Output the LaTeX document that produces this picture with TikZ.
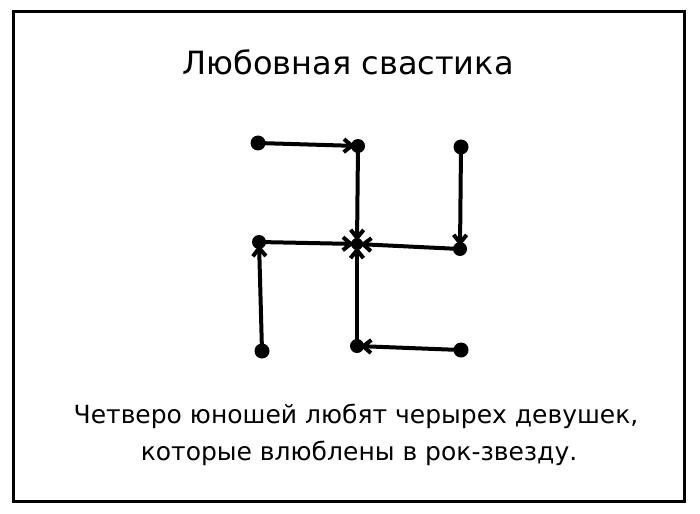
\documentclass[tikz,border=0pt]{standalone}
\usepackage{fontspec}
\setmainfont{DejaVu Sans}
\usetikzlibrary{arrows.meta}
\tikzset{>={Straight Barb[length=8pt,width=13pt]}}
\tikzset{love/.style={->, line width=4pt, shorten >=3pt, shorten <=2pt}}

\begin{document}
\begin{tikzpicture}[x=1pt, y=-1pt]
\useasboundingbox (0,0) rectangle (700,513);
\draw[line width=3pt] (13,12) rectangle (684,501);
\node (title) at (348,75) [anchor = base] {\fontsize{32}{38}\selectfont Любовная свастика};
% the star in the middle
\coordinate (S) at (357,244);
% girls
\coordinate (G1) at (358,146);
\coordinate (G2) at (460,249);
\coordinate (G3) at (259,242);
\coordinate (G4) at (357,346);
% boys
\coordinate (B1) at (258,143);
\coordinate (B2) at (461,147);
\coordinate (B3) at (262,351);
\coordinate (B4) at (461,350);
\foreach \i in {1,...,4}
\fill (B\i) circle (7.5pt);
\foreach \i in {1,...,4}
\fill (G\i) circle (7pt);
\fill (S) circle (6pt);
\foreach \i in {1,...,4}
\draw[love] (B\i) -- (G\i);
\foreach \i in {1,...,4}
\draw[love] (G\i) -- (S);
\node (cap1) at (356,423) [anchor = base] {\fontsize{25}{31}\selectfont Четверо юношей любят черырех девушек,};
\node (cap2) at (359,460) [anchor = base] {\fontsize{25}{31}\selectfont которые влюблены в рок-звезду.};
\end{tikzpicture}
\end{document}
